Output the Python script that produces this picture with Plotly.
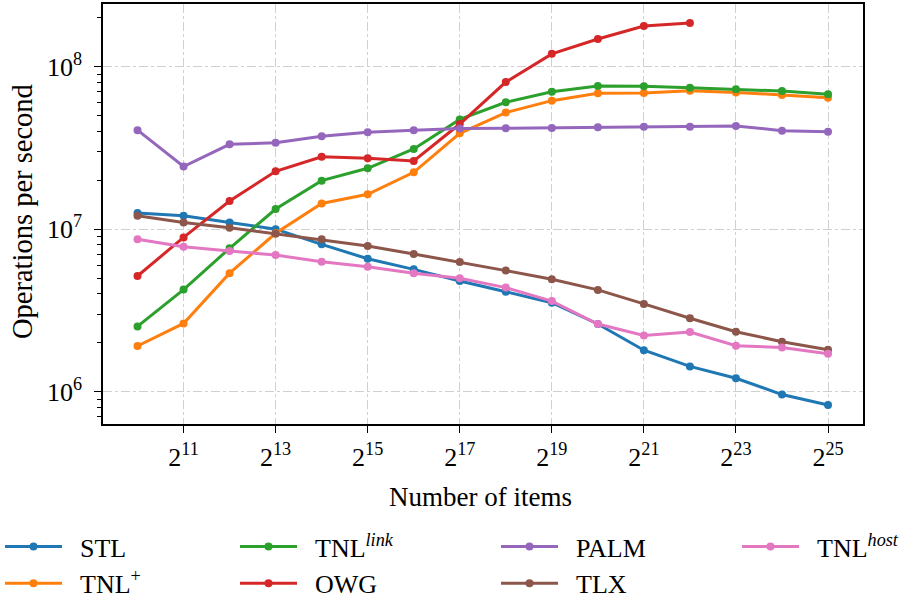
import math
import plotly.graph_objects as go

# ---- data ----
n_items = [1024, 2048, 4096, 8192, 16384, 32768, 65536, 131072, 262144,
           524288, 1048576, 2097152, 4194304, 8388608, 16777216, 33554432]

stl = [1.26e7, 1.21e7, 1.10e7, 1.00e7, 8.07e6, 6.58e6, 5.66e6, 4.80e6,
       4.12e6, 3.53e6, 2.61e6, 1.80e6, 1.43e6, 1.21e6, 9.6e5, 8.28e5]
tnl_plus = [1.91e6, 2.63e6, 5.36e6, 9.44e6, 1.44e7, 1.64e7, 2.24e7, 3.89e7,
            5.22e7, 6.18e7, 6.86e7, 6.89e7, 7.11e7, 6.95e7, 6.70e7, 6.44e7]
tnl_link = [2.52e6, 4.25e6, 7.63e6, 1.33e7, 1.99e7, 2.37e7, 3.12e7, 4.74e7,
            6.04e7, 7.02e7, 7.60e7, 7.57e7, 7.43e7, 7.26e7, 7.08e7, 6.76e7]
owg = [5.15e6, 8.9e6, 1.49e7, 2.27e7, 2.79e7, 2.73e7, 2.63e7, 4.44e7,
       8.05e7, 1.20e8, 1.48e8, 1.78e8, 1.86e8]
palm = [4.07e7, 2.43e7, 3.33e7, 3.40e7, 3.73e7, 3.95e7, 4.06e7, 4.16e7,
        4.18e7, 4.20e7, 4.24e7, 4.27e7, 4.27e7, 4.32e7, 4.04e7, 3.98e7]
tlx = [1.21e7, 1.10e7, 1.02e7, 9.38e6, 8.66e6, 7.88e6, 7.04e6, 6.28e6,
       5.56e6, 4.92e6, 4.23e6, 3.47e6, 2.83e6, 2.34e6, 2.03e6, 1.81e6]
tnl_host = [8.67e6, 7.80e6, 7.34e6, 6.93e6, 6.31e6, 5.88e6, 5.36e6, 4.99e6,
            4.37e6, 3.61e6, 2.61e6, 2.22e6, 2.33e6, 1.92e6, 1.87e6, 1.71e6]

x_tick_vals = [2048, 8192, 32768, 131072, 524288, 2097152, 8388608, 33554432]
x_tick_text = ["2<sup>11</sup>", "2<sup>13</sup>", "2<sup>15</sup>", "2<sup>17</sup>",
               "2<sup>19</sup>", "2<sup>21</sup>", "2<sup>23</sup>", "2<sup>25</sup>"]
y_tick_vals = [1e6, 1e7, 1e8]
y_tick_text = ["10<sup>6</sup>", "10<sup>7</sup>", "10<sup>8</sup>"]
y_minor_vals = [m * 10 ** e for e in (5, 6, 7, 8) for m in range(2, 10)]

FONT = "Liberation Serif"
PAD = "\u00a0\u00a0"

series = [
    ("STL", stl, "#1f77b4", "legend", 1),
    ("TNL<sup>+</sup>", tnl_plus, "#ff7f0e", "legend", 2),
    ("TNL<sup><i>link</i></sup>", tnl_link, "#2ca02c", "legend2", 1),
    ("OWG", owg, "#d62728", "legend2", 2),
    ("PALM", palm, "#9467bd", "legend3", 1),
    ("TLX", tlx, "#8c564b", "legend3", 2),
    ("TNL<sup><i>host</i></sup>", tnl_host, "#e377c2", "legend4", 1),
]

fig = go.Figure()
for name, vals, color, leg, rank in series:
    fig.add_trace(go.Scatter(
        x=n_items[:len(vals)], y=vals, name=PAD + name, mode="lines+markers",
        line=dict(color=color, width=3),
        marker=dict(color=color, size=8),
        legend=leg, legendrank=rank,
    ))

leg_common = dict(xref="container", yref="container", yanchor="top", xanchor="left",
                  orientation="v", bgcolor="rgba(0,0,0,0)",
                  font=dict(family=FONT, size=26, color="black"),
                  itemwidth=57, traceorder="normal")
legend_y = 1 - 523 / 600
fig.update_layout(
    legend=dict(x=0.0, y=legend_y, **leg_common),
    legend2=dict(x=235 / 919, y=legend_y, **leg_common),
    legend3=dict(x=496 / 919, y=legend_y, **leg_common),
    legend4=dict(x=737 / 919, y=legend_y, **leg_common),
)

axis_common = dict(
    showline=True, mirror=True, linecolor="black", linewidth=1.5,
    ticks="outside", ticklen=7, tickwidth=1.3, tickcolor="black",
    showgrid=True, gridcolor="#d0d0d0", griddash="dashdot", gridwidth=1.2,
    zeroline=False, tickfont=dict(family=FONT, size=26, color="black"),
)

fig.update_xaxes(
    type="log",
    range=[9.25 * math.log10(2), 25.76 * math.log10(2)],
    tickmode="array", tickvals=x_tick_vals, ticktext=x_tick_text,
    ticklabelstandoff=2,
    **axis_common,
)
fig.update_yaxes(
    type="log",
    range=[5.801, 8.386],
    tickmode="array", tickvals=y_tick_vals, ticktext=y_tick_text,
    minor=dict(tickmode="array", tickvals=y_minor_vals, ticks="outside",
               ticklen=4, tickwidth=1.1, tickcolor="black", showgrid=False),
    ticklabelstandoff=7,
    **axis_common,
)

plot_h = 424 - 4
plot_w = 863 - 103
fig.add_annotation(text="Number of items", xref="paper", yref="paper",
                   x=(480 - 103) / plot_w, y=(424 - 497) / plot_h,
                   xanchor="center", yanchor="middle", showarrow=False,
                   font=dict(family=FONT, size=27, color="black"))
fig.add_annotation(text="Operations per second", xref="paper", yref="paper",
                   x=(22 - 103) / plot_w, y=(424 - 212) / plot_h, textangle=-90,
                   xanchor="center", yanchor="middle", showarrow=False,
                   font=dict(family=FONT, size=28.5, color="black"))

fig.update_layout(
    width=919, height=600,
    margin=dict(l=103, r=56, t=4, b=176, autoexpand=False),
    plot_bgcolor="white", paper_bgcolor="white",
    font=dict(family=FONT, color="black"),
)

fig.write_html("out.html", config={"displayModeBar": False},
               post_script="document.body.style.margin='0px';")
